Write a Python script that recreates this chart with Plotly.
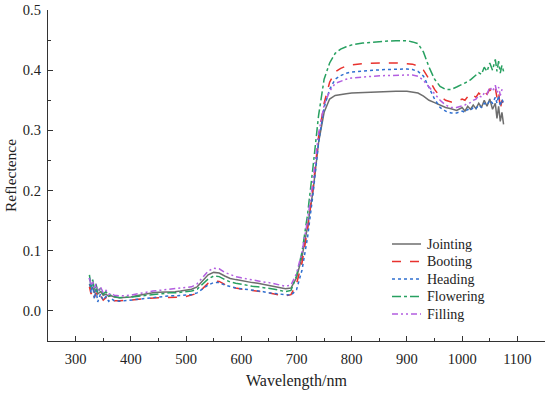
import plotly.graph_objects as go

wavelength = [
    325, 328, 331, 334, 337, 340, 345, 350, 355, 360, 365, 370,
    380, 390, 400, 410, 420, 430, 440, 450, 460, 470, 480, 490, 500,
    510, 520, 530, 540, 550, 560, 570, 580, 590, 600, 610, 620, 630, 640, 650, 660, 670, 680, 690,
    700, 710, 720, 730, 740, 750, 760, 770, 780, 790, 800,
    820, 840, 860, 880, 900, 910, 920, 930, 940, 950, 960, 970, 980, 990,
    1000, 1005, 1010, 1015, 1020, 1025, 1030, 1035, 1040, 1045, 1050, 1055, 1060, 1063, 1066, 1069, 1072, 1075,
]

jointing = [
    0.045, 0.035, 0.040, 0.030, 0.036, 0.028, 0.032, 0.026, 0.028, 0.024, 0.025, 0.023,
    0.022, 0.022, 0.023, 0.025, 0.027, 0.029, 0.030, 0.031, 0.031, 0.032, 0.032, 0.033, 0.034,
    0.036, 0.040, 0.050, 0.060, 0.064, 0.063, 0.058, 0.054, 0.052, 0.050, 0.049, 0.047, 0.046, 0.044, 0.043, 0.041, 0.039, 0.037, 0.038,
    0.055, 0.090, 0.140, 0.200, 0.280, 0.330, 0.352, 0.358, 0.360, 0.361, 0.362,
    0.363, 0.364, 0.364, 0.365, 0.365, 0.364, 0.362, 0.357, 0.350, 0.346, 0.342, 0.338, 0.336, 0.333,
    0.338, 0.332, 0.340, 0.335, 0.342, 0.336, 0.345, 0.338, 0.350, 0.340, 0.352, 0.335, 0.345, 0.320, 0.340, 0.315, 0.330, 0.310,
]

booting = [
    0.040, 0.028, 0.035, 0.022, 0.030, 0.020, 0.025, 0.018, 0.022, 0.017, 0.019, 0.017,
    0.017, 0.017, 0.018, 0.019, 0.020, 0.021, 0.021, 0.022, 0.022, 0.022, 0.022, 0.023, 0.024,
    0.026, 0.029, 0.037, 0.046, 0.050, 0.049, 0.044, 0.040, 0.038, 0.036, 0.035, 0.034, 0.033, 0.031, 0.030, 0.028, 0.026, 0.025, 0.027,
    0.045, 0.080, 0.135, 0.205, 0.290, 0.345, 0.380, 0.397, 0.403, 0.407, 0.409,
    0.411, 0.412, 0.412, 0.412, 0.411, 0.410, 0.407, 0.400, 0.385, 0.368, 0.356, 0.350, 0.347, 0.348,
    0.352, 0.350, 0.356, 0.353, 0.358, 0.355, 0.362, 0.358, 0.365, 0.360, 0.368, 0.362, 0.370, 0.355, 0.365, 0.335, 0.350, 0.340,
]

heading = [
    0.055, 0.030, 0.045, 0.020, 0.035, 0.015, 0.028, 0.018, 0.024, 0.016, 0.020, 0.017,
    0.016, 0.017, 0.018, 0.019, 0.021, 0.022, 0.023, 0.024, 0.024, 0.025, 0.025, 0.026, 0.026,
    0.027, 0.030, 0.036, 0.043, 0.047, 0.047, 0.043, 0.040, 0.038, 0.037, 0.036, 0.035, 0.034, 0.032, 0.030, 0.029, 0.028, 0.027, 0.026,
    0.035, 0.068, 0.122, 0.195, 0.280, 0.338, 0.368, 0.385, 0.391, 0.395, 0.397,
    0.399, 0.400, 0.401, 0.402, 0.402, 0.401, 0.398, 0.390, 0.372, 0.352, 0.338, 0.332, 0.329, 0.329,
    0.332, 0.330, 0.335, 0.333, 0.338, 0.336, 0.342, 0.338, 0.345, 0.342, 0.350, 0.345, 0.355, 0.345, 0.358, 0.340, 0.352, 0.345,
]

flowering = [
    0.060, 0.040, 0.052, 0.035, 0.045, 0.030, 0.038, 0.028, 0.032, 0.025, 0.027, 0.024,
    0.022, 0.022, 0.023, 0.024, 0.025, 0.027, 0.028, 0.029, 0.029, 0.030, 0.030, 0.031, 0.031,
    0.033, 0.036, 0.044, 0.053, 0.058, 0.057, 0.052, 0.048, 0.046, 0.044, 0.043, 0.041, 0.040, 0.039, 0.038, 0.036, 0.034, 0.032, 0.034,
    0.058, 0.098, 0.160, 0.240, 0.325, 0.385, 0.412, 0.428, 0.435, 0.439, 0.442,
    0.445, 0.447, 0.448, 0.449, 0.449, 0.447, 0.444, 0.430, 0.405, 0.385, 0.373, 0.368, 0.368, 0.372,
    0.376, 0.378, 0.381, 0.384, 0.388, 0.392, 0.396, 0.393, 0.405, 0.398, 0.412, 0.400, 0.418, 0.398, 0.415, 0.395, 0.408, 0.398,
]

filling = [
    0.055, 0.042, 0.050, 0.038, 0.045, 0.033, 0.040, 0.030, 0.034, 0.028, 0.029, 0.026,
    0.025, 0.025, 0.026, 0.028, 0.030, 0.032, 0.033, 0.034, 0.035, 0.036, 0.036, 0.037, 0.038,
    0.040, 0.045, 0.055, 0.066, 0.071, 0.070, 0.064, 0.060, 0.057, 0.055, 0.053, 0.051, 0.049, 0.048, 0.047, 0.045, 0.043, 0.041, 0.043,
    0.062, 0.098, 0.150, 0.218, 0.295, 0.342, 0.365, 0.378, 0.382, 0.385, 0.387,
    0.389, 0.390, 0.391, 0.392, 0.392, 0.392, 0.390, 0.383, 0.372, 0.360, 0.350, 0.342, 0.338, 0.338,
    0.340, 0.342, 0.345, 0.346, 0.350, 0.352, 0.358, 0.355, 0.362, 0.360, 0.372, 0.365, 0.375, 0.362, 0.372, 0.358, 0.368, 0.365,
]

x_tick_vals = [300, 400, 500, 600, 700, 800, 900, 1000, 1100]
y_tick_vals = [0.0, 0.1, 0.2, 0.3, 0.4, 0.5]

series = [
    ("Jointing", jointing, "#6e6e6e", "solid"),
    ("Booting", booting, "#e8322e", "dash"),
    ("Heading", heading, "#2f6fd0", "dot"),
    ("Flowering", flowering, "#27a060", "dashdot"),
    ("Filling", filling, "#b35ee0", "6px,3px,2px,3px,2px,3px"),
]

font_family = "Liberation Serif, Times New Roman, serif"
text_color = "#222222"

# plot area in pixels (for placing the hand-drawn legend)
W, H = 550, 393
ML, MR, MT, MB = 48, 5, 10, 52
PW, PH = W - ML - MR, H - MT - MB


def px_to_paper(px, py):
    return (px - ML) / PW, (H - MB - py) / PH


fig = go.Figure()
for name, vals, color, dash in series:
    fig.add_trace(go.Scatter(
        x=wavelength, y=vals, mode="lines", name=name, showlegend=False,
        line=dict(color=color, width=1.5, dash=dash),
    ))

# legend drawn by hand for tighter row spacing
legend_rows_y = [244, 261.5, 279, 296.5, 314]
for (name, vals, color, dash), ry in zip(series, legend_rows_y):
    x0, y0 = px_to_paper(392, ry)
    x1, _ = px_to_paper(421, ry)
    fig.add_shape(type="line", xref="paper", yref="paper", x0=x0, x1=x1, y0=y0, y1=y0,
                  line=dict(color=color, width=1.5, dash=dash))
    tx, _ = px_to_paper(425, ry)
    fig.add_annotation(xref="paper", yref="paper", x=tx, y=y0, text=name, showarrow=False,
                       xanchor="left", yanchor="middle",
                       font=dict(family=font_family, size=14, color=text_color))

axis_common = dict(
    showline=True, linecolor="#333333", linewidth=1.3,
    ticks="inside", ticklen=5, tickwidth=1.2, tickcolor="#333333",
    showgrid=False, zeroline=False, mirror=False, automargin=False,
    tickfont=dict(family=font_family, size=14.5, color=text_color),
)

fig.update_xaxes(
    range=[250, 1150], tickvals=x_tick_vals,
    minor=dict(ticks="inside", ticklen=3, tickcolor="#333333", dtick=50, tick0=250),
    title=dict(text="Wavelength/nm", font=dict(family=font_family, size=16, color=text_color), standoff=9),
    ticklabelstandoff=4,
    **axis_common,
)
fig.update_yaxes(
    range=[-0.05, 0.5], tickvals=y_tick_vals, tickformat=".1f",
    minor=dict(ticks="inside", ticklen=3, tickcolor="#333333", dtick=0.05, tick0=0),
    title=dict(text="Reflectence", font=dict(family=font_family, size=15.5, color=text_color), standoff=2),
    ticklabelstandoff=3,
    **axis_common,
)

fig.update_layout(
    width=W, height=H,
    margin=dict(l=ML, r=MR, t=MT, b=MB),
    plot_bgcolor="white", paper_bgcolor="white",
    showlegend=False,
)

fig.write_html(
    "out.html",
    config={"displayModeBar": False},
    post_script="document.body.style.margin='0';document.body.style.padding='0';",
)
